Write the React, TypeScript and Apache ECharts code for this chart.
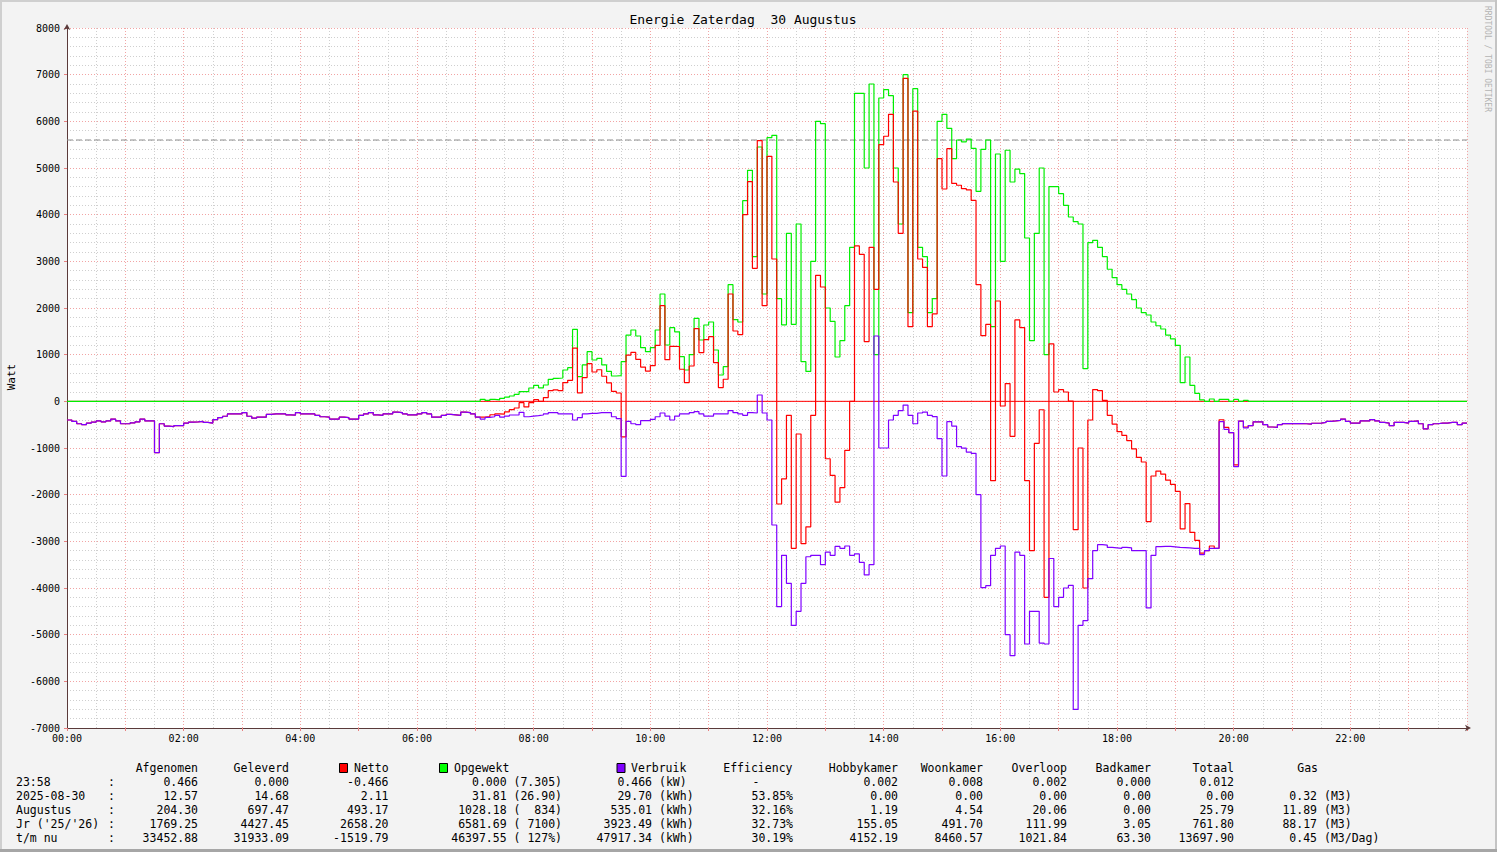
import React, { useEffect, useRef } from "react";
import * as echarts from "echarts";

// 5-minute samples, 288 per day (index i covers minute 5*i .. 5*i+5)
const STEP_MIN = 5;

// Opgewekt (generated power, W)
const opgewekt: number[] = [
  0, 0, 0, 0, 0, 0, 0, 0, 0, 0, 0, 0,
  0, 0, 0, 0, 0, 0, 0, 0, 0, 0, 0, 0,
  0, 0, 0, 0, 0, 0, 0, 0, 0, 0, 0, 0,
  0, 0, 0, 0, 0, 0, 0, 0, 0, 0, 0, 0,
  0, 0, 0, 0, 0, 0, 0, 0, 0, 0, 0, 0,
  0, 0, 0, 0, 0, 0, 0, 0, 0, 0, 0, 0,
  0, 0, 0, 0, 0, 0, 0, 0, 0, 0, 0, 0,
  0, 43, 20, 43, 30, 64, 90, 114, 150, 207, 210, 286,
  343, 290, 350, 471, 490, 500, 671, 721, 1540, 530, 780, 1064,
  886, 920, 780, 640, 543, 550, 850, 1420, 1529, 1400, 1150, 1064,
  1150, 1529, 2300, 1207, 1579, 1490, 957, 671, 1000, 1779, 1314, 1636,
  1700, 1100, 564, 743, 2500, 1750, 1700, 4300, 4950, 3100, 5450, 2300,
  5650, 5700, 2200, 1640, 3600, 1650, 3800, 850, 640, 3000, 6000, 5950,
  2000, 1712, 950, 1300, 2050, 3300, 6600, 6600, 5000, 6800, 1000, 6500,
  6680, 6550, 5000, 3800, 7000, 1900, 6700, 3300, 3100, 1900, 2200, 6000,
  6150, 5850, 5200, 5600, 5560, 5620, 5420, 4500, 5400, 5600, 1600, 5300,
  3000, 5380, 4700, 4975, 4880, 3500, 1300, 3600, 5000, 1000, 4600, 4600,
  4450, 4200, 3950, 3850, 3800, 700, 3400, 3450, 3300, 3100, 2830, 2650,
  2500, 2400, 2300, 2180, 2000, 1900, 1850, 1700, 1620, 1550, 1420, 1340,
  1200, 400, 950, 340, 170, 30, 0, 50, 0, 40, 40, 0,
  40, 0, 20, 0, 0, 0, 0, 0, 0, 0, 0, 0,
  0, 0, 0, 0, 0, 0, 0, 0, 0, 0, 0, 0,
  0, 0, 0, 0, 0, 0, 0, 0, 0, 0, 0, 0,
  0, 0, 0, 0, 0, 0, 0, 0, 0, 0, 0, 0,
];

// Verbruik (consumption, W) - plotted below zero
const verbruik: number[] = [
  400, 430, 480, 500, 465, 444, 420, 440, 420, 380, 420, 480,
  480, 460, 440, 380, 420, 420, 1100, 480, 530, 540, 520, 520,
  465, 444, 440, 430, 450, 465, 390, 350, 320, 270, 270, 270,
  240, 320, 360, 340, 340, 280, 270, 270, 270, 290, 295, 240,
  270, 270, 270, 300, 330, 340, 380, 380, 340, 350, 380, 380,
  300, 270, 240, 290, 300, 270, 270, 230, 240, 270, 290, 290,
  270, 240, 270, 340, 340, 300, 280, 290, 300, 230, 240, 270,
  340, 380, 345, 330, 300, 340, 315, 293, 293, 236, 330, 315,
  307, 293, 270, 243, 243, 270, 270, 270, 400, 350, 270, 257,
  257, 243, 243, 243, 330, 371, 1610, 430, 480, 500, 415, 415,
  385, 330, 250, 315, 400, 315, 270, 270, 243, 220, 270, 315,
  315, 270, 270, 270, 200, 243, 270, 300, 240, 250, -136, 250,
  400, 2650, 4400, 3300, 3900, 4800, 4500, 3900, 3330, 3300, 3300, 3500,
  3230, 3300, 3110, 3150, 3100, 3300, 3270, 3450, 3720, 3500, -1400, 1000,
  1000, 400, 300, 200, 80, 300, 480, 250, 230, 300, 326, 800,
  1600, 436, 530, 970, 1004, 1088, 1114, 2000, 3993, 3951, 3300, 3150,
  3100, 5000, 5450, 3231, 3300, 5200, 4500, 4500, 5180, 5200, 3368, 4400,
  4200, 4000, 3944, 6600, 4800, 4700, 3800, 3199, 3072, 3080, 3130, 3140,
  3150, 3130, 3140, 3200, 3200, 3200, 4427, 3300, 3114, 3110, 3110, 3120,
  3130, 3135, 3140, 3150, 3150, 3283, 3200, 3150, 3150, 435, 600, 670,
  1400, 423, 570, 520, 440, 440, 500, 550, 560, 500, 479, 479,
  479, 479, 480, 490, 470, 465, 450, 430, 420, 408, 380, 430,
  465, 465, 420, 420, 390, 420, 450, 465, 521, 450, 450, 465,
  430, 420, 480, 591, 500, 480, 465, 465, 450, 450, 500, 466,
];

const peakLine = 5600;

// table (legend) texts
const rowLabels = ["23:58", "2025-08-30", "Augustus", "Jr ('25/'26)", "t/m nu"];
const afgenomenTxt = ["0.466", "12.57", "204.30", "1769.25", "33452.88"];
const geleverdTxt = ["0.000", "14.68", "697.47", "4427.45", "31933.09"];
const nettoTxt = ["-0.466", "2.11", "493.17", "2658.20", "-1519.79"];
const opgewektTxt = ["0.000 (7.305)", "31.81 (26.90)", "1028.18 (  834)", "6581.69 ( 7100)", "46397.55 ( 127%)"];
const verbruikTxt = ["0.466", "29.70", "535.01", "3923.49", "47917.34"];
const verbruikUnit = ["(kW)", "(kWh)", "(kWh)", "(kWh)", "(kWh)"];
const efficiencyTxt = ["-", "53.85%", "32.16%", "32.73%", "30.19%"];
const hobbykamerTxt = ["0.002", "0.00", "1.19", "155.05", "4152.19"];
const woonkamerTxt = ["0.008", "0.00", "4.54", "491.70", "8460.57"];
const overloopTxt = ["0.002", "0.00", "20.06", "111.99", "1021.84"];
const badkamerTxt = ["0.000", "0.00", "0.00", "3.05", "63.30"];
const totaalTxt = ["0.012", "0.00", "25.79", "761.80", "13697.90"];
const gasTxt = ["", "0.32", "11.89", "88.17", "0.45"];
const gasUnit = ["", "(M3)", "(M3)", "(M3)", "(M3/Dag)"];

const RED = "#ff0000";
const GREEN = "#00ee00";
const PURPLE = "#7f00ff";
const MONO = '"DejaVu Sans Mono", monospace';

function toSteps(vals: number[]): number[][] {
  const pts = vals.map((v, i) => [i * STEP_MIN, v]);
  pts.push([1440, vals[vals.length - 1]]);
  return pts;
}

function nb(s: string) {
  return s.replace(/ /g, "\u00A0");
}

function txt(text: string, x: number, y: number, align = "left", size = 11.5, color = "#000") {
  return {
    type: "text",
    x,
    y,
    silent: true,
    style: { text: nb(text), fill: color, font: `${size}px ${MONO}`, align, verticalAlign: "middle" },
  };
}

function box(x: number, y: number, color: string) {
  return {
    type: "rect",
    silent: true,
    shape: { x, y, width: 8, height: 9 },
    style: { fill: color, stroke: "#000", lineWidth: 1 },
  };
}

function buildGraphics() {
  const g: any[] = [];
  // frame
  g.push({ type: "rect", silent: true, shape: { x: 0, y: 0, width: 1497, height: 2 }, style: { fill: "#cfcfcf" } });
  g.push({ type: "rect", silent: true, shape: { x: 0, y: 0, width: 2, height: 852 }, style: { fill: "#cfcfcf" } });
  g.push({ type: "rect", silent: true, shape: { x: 1495, y: 0, width: 2, height: 852 }, style: { fill: "#c4c4c4" } });
  g.push({ type: "rect", silent: true, shape: { x: 0, y: 849, width: 1497, height: 3 }, style: { fill: "#a6a6a6" } });

  // title
  g.push(txt("Energie Zaterdag  30 Augustus", 743, 19, "center", 13));
  // y axis name
  g.push({
    type: "text",
    x: 11,
    y: 377,
    rotation: Math.PI / 2,
    silent: true,
    style: { text: "Watt", fill: "#000", font: `11px ${MONO}`, align: "center", verticalAlign: "middle" },
  });
  // watermark
  g.push({
    type: "text",
    x: 1487,
    y: 59,
    rotation: -Math.PI / 2,
    silent: true,
    style: { text: "RRDTOOL / TOBI OETIKER", fill: "#b4b4b4", font: `8px ${MONO}`, align: "center", verticalAlign: "middle" },
  });

  // table header
  const hy = 768;
  g.push(txt("Afgenomen", 198, hy, "right"));
  g.push(txt("Geleverd", 289, hy, "right"));
  g.push(box(339.5, 763.5, RED));
  g.push(txt("Netto", 354, hy, "left"));
  g.push(box(439.5, 763.5, "#00ff00"));
  g.push(txt("Opgewekt", 454, hy, "left"));
  g.push(box(617, 763.5, PURPLE));
  g.push(txt("Verbruik", 631, hy, "left"));
  g.push(txt("Efficiency", 792.5, hy, "right"));
  g.push(txt("Hobbykamer", 898, hy, "right"));
  g.push(txt("Woonkamer", 983, hy, "right"));
  g.push(txt("Overloop", 1067, hy, "right"));
  g.push(txt("Badkamer", 1151, hy, "right"));
  g.push(txt("Totaal", 1234, hy, "right"));
  g.push(txt("Gas", 1318, hy, "right"));

  const rowY = [782, 796, 810, 824, 838];
  rowLabels.forEach((lab, r) => {
    const y = rowY[r];
    g.push(txt(lab, 16, y, "left"));
    g.push(txt(":", 108, y, "left"));
    g.push(txt(afgenomenTxt[r], 198, y, "right"));
    g.push(txt(geleverdTxt[r], 289, y, "right"));
    g.push(txt(nettoTxt[r], 388.5, y, "right"));
    g.push(txt(opgewektTxt[r], 562, y, "right"));
    g.push(txt(verbruikTxt[r], 652, y, "right"));
    g.push(txt(verbruikUnit[r], 659, y, "left"));
    if (efficiencyTxt[r] === "-") g.push(txt("-", 756, y, "center"));
    else g.push(txt(efficiencyTxt[r], 793, y, "right"));
    g.push(txt(hobbykamerTxt[r], 898, y, "right"));
    g.push(txt(woonkamerTxt[r], 983, y, "right"));
    g.push(txt(overloopTxt[r], 1067, y, "right"));
    g.push(txt(badkamerTxt[r], 1151, y, "right"));
    g.push(txt(totaalTxt[r], 1234, y, "right"));
    if (gasTxt[r]) {
      g.push(txt(gasTxt[r], 1317, y, "right"));
      g.push(txt(gasUnit[r], 1324, y, "left"));
    }
  });
  return g;
}

export default function App() {
  const ref = useRef<HTMLDivElement>(null);

  useEffect(() => {
    if (!ref.current) return;
    const chart = echarts.init(ref.current, undefined, { renderer: "svg" });

    // Netto follows the table's own relation: Netto = Opgewekt - Verbruik
    const netto = opgewekt.map((g, i) => g - verbruik[i]);
    const verbruikNeg = verbruik.map((v) => -v);

    const majorGrid = { color: "#f2a4a4", type: [1, 2] as any, width: 1 };
    const minorGrid = { color: "#cfcfcf", type: [1, 2] as any, width: 1 };
    const axisColor = "#5a3a3a";

    const option: any = {
      animation: false,
      backgroundColor: "#f3f3f3",
      grid: {
        left: 67,
        top: 28,
        width: 1400,
        height: 700,
        show: true,
        backgroundColor: "#ffffff",
        borderWidth: 0,
      },
      xAxis: {
        type: "value",
        min: 0,
        max: 1440,
        interval: 60,
        axisLine: {
          onZero: false,
          lineStyle: { color: axisColor, width: 1 },
          symbol: ["none", "arrow"],
          symbolSize: [5, 6],
          symbolOffset: [0, 4],
        },
        axisTick: { show: true, length: 3, lineStyle: { color: "#e88080" } },
        axisLabel: {
          fontFamily: MONO,
          fontSize: 10,
          color: "#000",
          margin: 5,
          formatter: (v: number) => {
            if (v % 120 !== 0 || v >= 1440) return "";
            const h = v / 60;
            return (h < 10 ? "0" : "") + h + ":00";
          },
        },
        splitLine: { show: true, lineStyle: majorGrid },
        minorTick: { show: true, splitNumber: 2, length: 0, lineStyle: { color: "rgba(0,0,0,0)" } },
        minorSplitLine: { show: true, lineStyle: minorGrid },
      },
      yAxis: {
        type: "value",
        min: -7000,
        max: 8000,
        interval: 1000,
        axisLine: {
          show: true,
          lineStyle: { color: axisColor, width: 1 },
          symbol: ["none", "arrow"],
          symbolSize: [5, 6],
          symbolOffset: [0, 4],
        },
        axisTick: { show: true, length: 3, lineStyle: { color: "#e88080" } },
        axisLabel: {
          fontFamily: MONO,
          fontSize: 10,
          color: "#000",
          margin: 7,
          formatter: (v: number) => String(v),
        },
        splitLine: { show: true, lineStyle: majorGrid },
        minorTick: { show: true, splitNumber: 5, length: 0, lineStyle: { color: "rgba(0,0,0,0)" } },
        minorSplitLine: { show: true, lineStyle: minorGrid },
      },
      series: [
        {
          type: "line",
          name: "zero",
          data: [[0, 0], [1440, 0]],
          symbol: "none",
          silent: true,
          lineStyle: { color: RED, width: 1 },
        },
        {
          type: "line",
          name: "piek",
          data: [[0, peakLine], [1440, peakLine]],
          symbol: "none",
          silent: true,
          lineStyle: { color: "#8c8c8c", width: 1, type: [6, 3] },
        },
        {
          type: "line",
          name: "Opgewekt",
          step: "end",
          data: toSteps(opgewekt),
          symbol: "none",
          silent: true,
          lineStyle: { color: GREEN, width: 1.2 },
        },
        {
          type: "line",
          name: "Netto",
          step: "end",
          data: toSteps(netto),
          symbol: "none",
          silent: true,
          lineStyle: { color: RED, width: 1.2 },
        },
        {
          type: "line",
          name: "Verbruik",
          step: "end",
          data: toSteps(verbruikNeg),
          symbol: "none",
          silent: true,
          lineStyle: { color: PURPLE, width: 1.2 },
        },
      ],
      graphic: buildGraphics(),
    };

    chart.setOption(option);
    return () => chart.dispose();
  }, []);

  return (
    <div
      ref={ref}
      style={{ position: "fixed", left: 0, top: 0, width: 1497, height: 852, background: "#f3f3f3" }}
    />
  );
}
